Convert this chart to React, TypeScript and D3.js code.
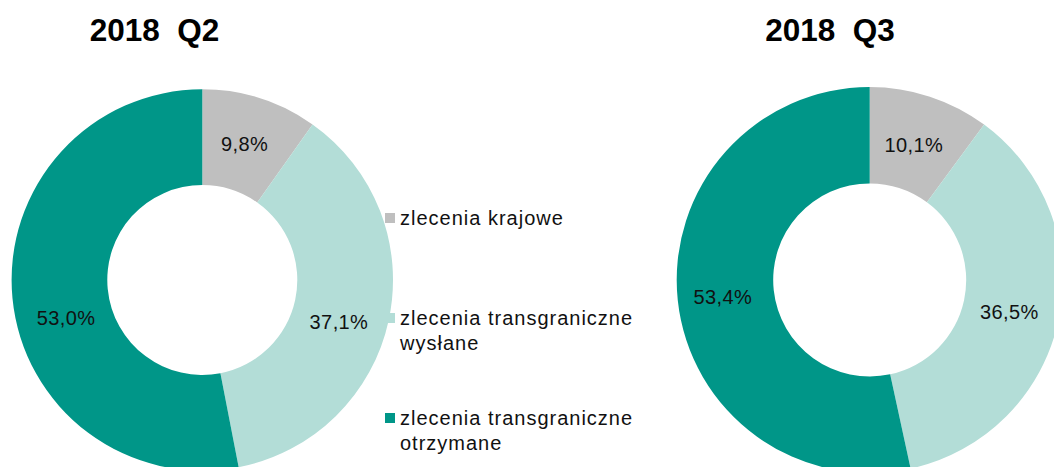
import React from "react";
import * as d3 from "d3";

const categories = [
  "zlecenia krajowe",
  "zlecenia transgraniczne wysłane",
  "zlecenia transgraniczne otrzymane",
];
const legendLines = [
  ["zlecenia krajowe"],
  ["zlecenia transgraniczne", "wysłane"],
  ["zlecenia transgraniczne", "otrzymane"],
];
const titles = ["2018  Q2", "2018  Q3"];
const valuesQ2 = [9.8, 37.1, 53.0];
const valuesQ3 = [10.1, 36.5, 53.4];
const colors = ["#BFBFBF", "#B3DDD7", "#009688"];

const FONT = "'Liberation Sans', Arial, sans-serif";

type ChartSpec = {
  title: string;
  values: number[];
  cx: number;
  cy: number;
  R: number;
  r: number;
  titleX: number;
  labelNudge: [number, number][];
};

const fmt = (v: number) => v.toFixed(1).replace(".", ",") + "%";

function Donut({ spec }: { spec: ChartSpec }) {
  const pie = d3
    .pie<number>()
    .sort(null)
    .value((d) => d)
    .startAngle(0)
    .endAngle(2 * Math.PI);
  const arcs = pie(spec.values);
  const arc = d3
    .arc<d3.PieArcDatum<number>>()
    .innerRadius(spec.r)
    .outerRadius(spec.R);
  return (
    <g>
      <text
        x={spec.titleX}
        y={41}
        textAnchor="middle"
        fontFamily={FONT}
        fontWeight="bold"
        fontSize={31.5}
        fill="#000"
        style={{ whiteSpace: "pre" }}
      >
        {spec.title}
      </text>
      <g transform={`translate(${spec.cx},${spec.cy})`}>
        {arcs.map((a, i) => (
          <path key={categories[i]} d={arc(a) || ""} fill={colors[i]} />
        ))}
        {arcs.map((a, i) => {
          const [x, y] = arc.centroid(a);
          const [nx, ny] = spec.labelNudge[i];
          return (
            <text
              key={"l" + i}
              x={x + nx}
              y={y + ny}
              dy="0.36em"
              textAnchor="middle"
              fontFamily={FONT}
              fontSize={20}
              letterSpacing={0.4}
              fill="#111"
            >
              {fmt(a.data)}
            </text>
          );
        })}
      </g>
    </g>
  );
}

export default function App() {
  const specs: ChartSpec[] = [
    {
      title: titles[0],
      values: valuesQ2,
      cx: 202.3,
      cy: 280,
      R: 190.7,
      r: 95,
      titleX: 154.5,
      labelNudge: [
        [-1, 0],
        [-3, 12],
        [6, 24],
      ],
    },
    {
      title: titles[1],
      values: valuesQ3,
      cx: 869.7,
      cy: 280,
      R: 193,
      r: 96.5,
      titleX: 830,
      labelNudge: [
        [-1, 2],
        [-2, 2],
        [-3, 1],
      ],
    },
  ];
  const legendBaselines = [225, 325, 425];
  return (
    <svg
      width={1054}
      height={467}
      style={{ position: "absolute", left: 0, top: 0, background: "#fff" }}
    >
      <rect x={0} y={0} width={1054} height={467} fill="#fff" />
      {specs.map((s) => (
        <Donut key={s.title} spec={s} />
      ))}
      {legendLines.map((lines, i) => (
        <g key={categories[i]}>
          <rect
            x={385}
            y={legendBaselines[i] - 12}
            width={10}
            height={10}
            fill={colors[i]}
          />
          <text
            x={400}
            y={legendBaselines[i]}
            fontFamily={FONT}
            fontSize={20}
            letterSpacing={1.0}
            fill="#111"
          >
            {lines.map((ln, j) => (
              <tspan key={j} x={400} dy={j === 0 ? 0 : 25}>
                {ln}
              </tspan>
            ))}
          </text>
        </g>
      ))}
    </svg>
  );
}
